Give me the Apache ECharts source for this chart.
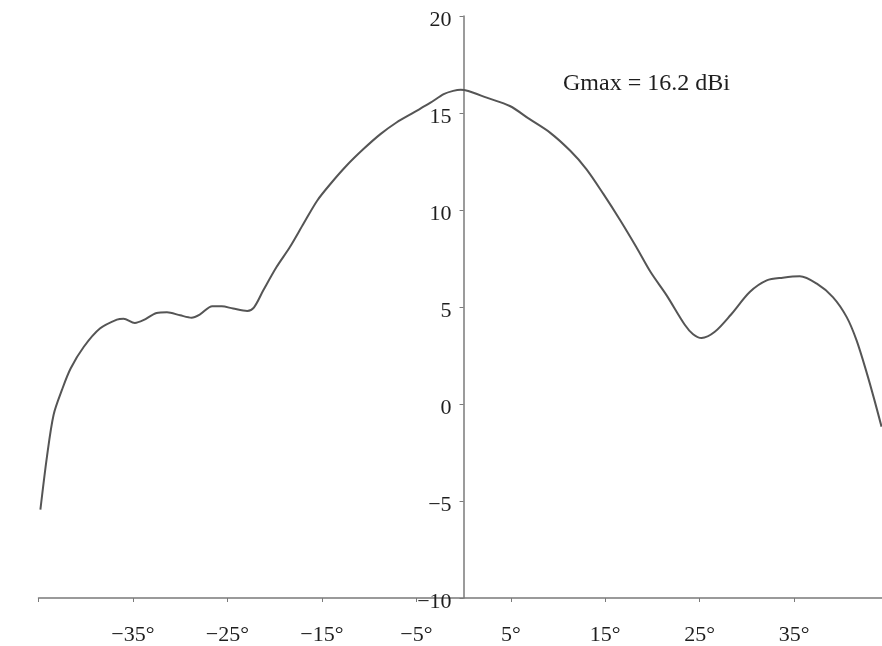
<!DOCTYPE html>
<html>
<head>
<meta charset="utf-8">
<script src="https://cdn.jsdelivr.net/npm/echarts@6/dist/echarts.min.js"></script>
<style>
  html, body { margin: 0; padding: 0; background: #fff; }
  #chart { width: 882px; height: 646px; }
</style>
</head>
<body>
<div id="chart"></div>
<script>
// radiation pattern, angle in degrees vs gain in dBi
const angles = [-44.8, -44.1, -43.4, -42.5, -41.6, -40.2, -38.5, -36.7, -36.0, -34.8,
  -33.9, -32.5, -31.4, -30.0, -28.8, -27.9, -26.6, -25.6, -24.4, -22.9,
  -22.2, -21.2, -19.8, -18.4, -16.95, -15.5, -14.1, -12.4, -10.6, -8.8,
  -7.1, -5.3, -3.5, -2.1, -1.1, -0.3, 0.5, 2.45, 4.9, 7.0,
  9.15, 11.3, 13.0, 14.8, 16.6, 18.3, 19.8, 21.5, 23.4, 24.3,
  25.2, 26.6, 28.3, 30.3, 32.1, 33.8, 35.6, 37.4, 39.1, 40.55,
  41.6, 42.7, 43.5, 44.25];
const gain = [-5.45, -2.7, -0.55, 0.75, 1.83, 2.95, 3.89, 4.35, 4.4, 4.18,
  4.32, 4.69, 4.73, 4.57, 4.45, 4.62, 5.04, 5.04, 4.92, 4.8,
  4.97, 5.86, 7.06, 8.08, 9.29, 10.48, 11.34, 12.28, 13.14, 13.91,
  14.51, 15.02, 15.53, 15.97, 16.14, 16.2, 16.13, 15.79, 15.36, 14.68,
  13.99, 13.05, 12.11, 10.83, 9.46, 8.08, 6.8, 5.6, 4.1, 3.6,
  3.4, 3.72, 4.6, 5.77, 6.37, 6.51, 6.58, 6.2, 5.51, 4.49,
  3.29, 1.58, 0.2, -1.17];
const xTicks = [-45, -35, -25, -15, -5, 5, 15, 25, 35];
const gmaxLabel = 'Gmax = 16.2 dBi';

const font = 'Liberation Serif';
const axisColor = '#7a7a7a';
const textColor = '#1e1e1e';

const gridLeft = 38.5, gridRight = 882;
const xMin = xTicks[0], xMax = 44.3;
// shift the y axis from the grid's left edge to x = 0
const yOffset = -(0 - xMin) / (xMax - xMin) * (gridRight - gridLeft);

const chart = echarts.init(document.getElementById('chart'));
chart.setOption({
  backgroundColor: '#fff',
  animation: false,
  grid: { left: gridLeft, right: 882 - gridRight, top: 16, bottom: 48, outerBoundsMode: 'none', containLabel: false },
  xAxis: {
    type: 'value',
    min: xMin,
    max: xMax,
    interval: 10,
    axisLine: { onZero: false, lineStyle: { color: axisColor, width: 1.5 } },
    axisTick: { show: true, length: 4, lineStyle: { color: axisColor } },
    splitLine: { show: false },
    axisLabel: {
      margin: 26,
      fontFamily: font,
      fontSize: 22,
      color: textColor,
      showMaxLabel: false,
      formatter: v => (v === xMin || v === xMax) ? '' : (v < 0 ? '\u2212' + (-v) : v) + '°'
    }
  },
  yAxis: {
    type: 'value',
    min: -10,
    max: 20,
    interval: 5,
    offset: yOffset,
    axisLine: { show: true, onZero: false, lineStyle: { color: axisColor, width: 1.5 } },
    axisTick: { show: true, length: 4, lineStyle: { color: axisColor } },
    splitLine: { show: false },
    axisLabel: {
      margin: 12,
      fontFamily: font,
      fontSize: 22,
      color: textColor,
      verticalAlign: 'top',
      lineHeight: 8,
      formatter: v => v < 0 ? '\u2212' + (-v) : String(v)
    }
  },
  graphic: [{
    type: 'text',
    left: 563,
    top: 72,
    style: { text: gmaxLabel, font: '24px "Liberation Serif"', fill: textColor }
  }],
  series: [{
    type: 'line',
    data: angles.map((a, i) => [a, gain[i]]),
    smooth: 0.3,
    showSymbol: false,
    lineStyle: { color: '#555', width: 2 }
  }]
});
</script>
</body>
</html>
